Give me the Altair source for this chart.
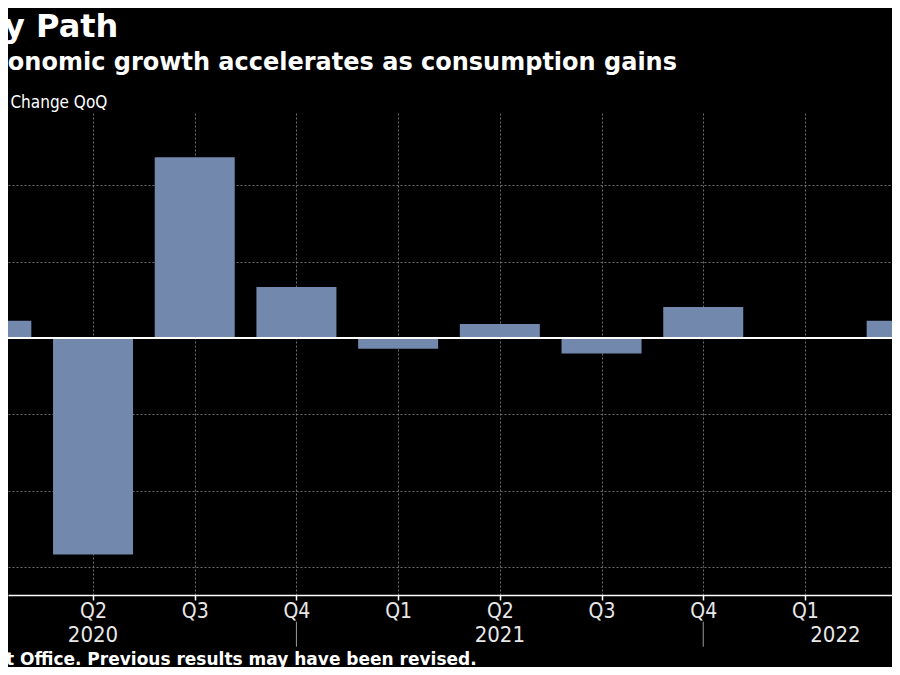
import json
import altair as alt
import pandas as pd

# ---- data ----
quarters = ["Q1", "Q2", "Q3", "Q4", "Q1", "Q2", "Q3", "Q4", "Q1", "Q2"]
years = [2020, 2020, 2020, 2020, 2021, 2021, 2021, 2021, 2022, 2022]
gdp_qoq = [0.45, -5.68, 4.74, 1.34, -0.28, 0.37, -0.41, 0.81, -0.02, 0.45]

year_labels = ["2020", "2021", "2022"]
year_label_at = [1, 5, 8.3]          # quarter index the year label sits under

title_text = "Bumpy Path"
subtitle_text = "Economic growth accelerates as consumption gains"
unit_text = "GDP Change QoQ"
source_text = "Source: Japan Cabinet Office. Previous results may have been revised."

idx = list(range(len(quarters)))
df = pd.DataFrame({"idx": idx, "quarter": quarters, "year": years, "gdp": gdp_qoq})
sep_df = pd.DataFrame({"idx": [i for i, q in zip(idx, quarters) if q == "Q4"]})
year_df = pd.DataFrame({"idx": year_label_at, "label": year_labels})
zero_df = pd.DataFrame({"gdp": [0]})

X_DOMAIN = [0.164, 8.856]
Y_DOMAIN = [-6.74, 5.90]

BAR = "#7289AD"
GRID = "#6e6e6e"
TXT = "#e8e8e8"
NARROW = "DejaVu Sans Condensed"

x_scale = alt.Scale(domain=X_DOMAIN, nice=False, zero=False, padding=0)
y_scale = alt.Scale(domain=Y_DOMAIN, nice=False, padding=0)

x_enc = alt.X(
    "idx:Q",
    scale=x_scale,
    title=None,
    axis=alt.Axis(
        values=idx,
        labelExpr=json.dumps(quarters) + "[datum.value]",
        grid=True,
        gridColor=GRID,
        gridDash=[2, 2],
        gridWidth=1,
        domain=True,
        domainColor="white",
        domainWidth=1.5,
        ticks=True,
        tickColor="white",
        tickSize=5,
        tickWidth=1.5,
        labelColor=TXT,
        labelFont=NARROW,
        labelFontSize=21,
        labelPadding=0,
        labelFlush=False,
        labelOverlap=False,
        title=None,
    ),
)

y_enc = alt.Y(
    "gdp:Q",
    scale=y_scale,
    title=None,
    axis=alt.Axis(
        values=[-6, -4, -2, 2, 4],
        grid=True,
        gridColor=GRID,
        gridDash=[2, 2],
        gridWidth=1,
        domain=False,
        ticks=False,
        labels=False,
        title=None,
    ),
)

bars = alt.Chart(df).mark_bar(size=80, color=BAR, clip=True).encode(x=x_enc, y=y_enc)

zero = alt.Chart(zero_df).mark_rule(color="white", strokeWidth=2).encode(y=y_enc)

seps = alt.Chart(sep_df).mark_rule(color="#9a9a9a", strokeWidth=1).encode(
    x=x_enc,
    y=alt.value(508.7),
    y2=alt.value(533.7),
)

year_text = alt.Chart(year_df).mark_text(
    color=TXT, font=NARROW, fontSize=22, align="center", baseline="alphabetic"
).encode(
    x=x_enc,
    y=alt.value(528.7),
    text="label:N",
)


def label(text, x, y, size, weight, font):
    return alt.Chart(pd.DataFrame({"t": [text]})).mark_text(
        color="white", font=font, fontSize=size, fontWeight=weight,
        align="right", baseline="alphabetic",
    ).encode(x=alt.value(x), y=alt.value(y), text="t:N")


title = label(title_text, 110.3, -76, 32, "bold", "DejaVu Sans")
subtitle = label(subtitle_text, 669, -43.5, 24, "bold", "DejaVu Sans")
unit = label(unit_text, 99.3, -4.7, 17, "normal", "DejaVu Sans Condensed")
source = label(source_text, 468.7, 551.5, 17, "bold", "DejaVu Sans")

chart = (
    alt.layer(bars, zero, seps, year_text, title, subtitle, unit, source)
    .properties(
        width=884,
        height=482,
        padding={"left": 0, "top": 105, "right": 0, "bottom": 72},
        autosize=alt.AutoSizeParams(type="none"),
        background="#000000",
    )
    .configure_view(strokeWidth=0)
)

chart.save("out.html", embed_options={"renderer": "svg", "actions": False})
